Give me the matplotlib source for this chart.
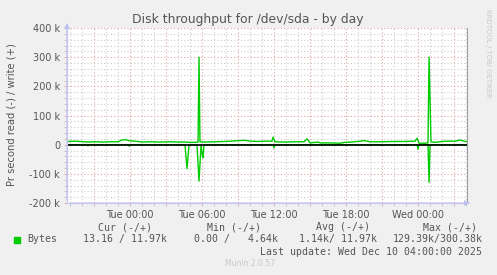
import matplotlib
matplotlib.use("Agg")
import matplotlib.pyplot as plt
from matplotlib.ticker import MultipleLocator, FuncFormatter

# hours relative to Tue 00:00
write_hours = [-5.25, -4.58, -4.17, -3.5, -2.92, -2.25, -1.67, -1.0, -0.67, -0.33,
               0.0, 0.42, 1.0, 1.67, 2.5, 3.33, 4.0, 4.58, 5.0, 5.5, 5.67, 5.75,
               5.83, 6.25, 7.08, 7.92, 8.75, 9.58, 10.0, 10.67, 11.25, 11.83, 11.92,
               12.08, 12.92, 13.75, 14.5, 14.75, 15.0, 15.67, 15.83, 16.67, 17.5,
               17.92, 18.5, 19.17, 19.5, 20.0, 20.83, 22.08, 22.92, 23.75, 23.92,
               24.08, 24.58, 24.83, 24.92, 25.08, 25.42, 26.25, 27.08, 27.5, 27.92, 28.08]
write_k = [11, 12, 11, 9, 10, 9, 10, 10, 16, 17,
           13, 12, 9, 10, 9, 10, 9, 9, 8, 8, 9, 300,
           10, 9, 10, 11, 13, 15, 12, 11, 12, 12, 26,
           10, 9, 10, 10, 20, 6, 9, 6, 6, 5,
           8, 9, 12, 14, 10, 10, 11, 11, 12, 22,
           5, 5, 6, 300, 10, 8, 12, 12, 16, 11, 11]

read_hours = [-5.25, -3.58, -3.5, -3.42, -0.17, -0.08, 0.0, 4.58, 4.75, 4.92,
              5.58, 5.75, 5.92, 6.0, 6.08, 6.17, 11.92, 12.0, 12.08,
              23.92, 24.0, 24.08, 24.83, 24.92, 25.0, 28.08]
read_k = [0, 0, 4, 0, 0, 5, 0, 0, 82, 0,
          0, 125, 0, 30, 45, 0, 0, 11, 0,
          0, 15, 0, 0, 129, 0, 0]

day_labels = {0: "Tue 00:00", 6: "Tue 06:00", 12: "Tue 12:00", 18: "Tue 18:00", 24: "Wed 00:00"}

legend_head = [("Cur (-/+)", 98), ("Min (-/+)", 207), ("Avg (-/+)", 316), ("Max (-/+)", 423)]
legend_vals = [("13.16 / 11.97k", 83), ("0.00 /   4.64k", 194), ("1.14k/ 11.97k", 299), ("129.39k/300.38k", 393)]

W, H = 497, 275
TXT = "#555555"
GREEN = "#00cc00"

fig = plt.figure(figsize=(W / 100, H / 100), dpi=100, facecolor="#f0f0f0")
ax = fig.add_axes([67 / W, 1 - 203 / H, 400 / W, 175 / H])
ax.set_facecolor("white")

ax.xaxis.set_major_locator(MultipleLocator(3))
ax.xaxis.set_minor_locator(MultipleLocator(1))
ax.yaxis.set_major_locator(MultipleLocator(100000))
ax.yaxis.set_minor_locator(MultipleLocator(20000))
ax.grid(which="minor", color="#cccccc", linestyle=(0, (1, 2)), linewidth=0.8)
ax.grid(which="major", color="#e0a4a4", linestyle=(0, (1, 2)), linewidth=0.8)
ax.set_axisbelow(True)

ax.plot(write_hours, [v * 1000 for v in write_k], color=GREEN, linewidth=1.0)
ax.plot(read_hours, [-v * 1000 for v in read_k], color=GREEN, linewidth=1.0)
ax.axhline(0, color="black", linewidth=1.2)

ax.set_xlim(-5.25, 28.08)
ax.set_ylim(-200000, 400000)

def ylab(v, pos):
    if v == 0:
        return "0"
    return "%d k" % (v / 1000)

def xlab(v, pos):
    return day_labels.get(int(round(v)), "")

ax.yaxis.set_major_formatter(FuncFormatter(ylab))
ax.xaxis.set_major_formatter(FuncFormatter(xlab))
ax.tick_params(which="both", length=2, width=0.6, colors="#e0a4a4", labelcolor=TXT,
               labelsize=7, pad=3)
ax.tick_params(which="minor", colors="#c0c0c0")

ax.spines["top"].set_visible(False)
ax.spines["right"].set_color("#a0a0a0")
ax.spines["left"].set_color("#c8c8f0")
ax.spines["bottom"].set_color("#c8c8f0")
ax.annotate("", xy=(0, 1.045), xytext=(0, 0), xycoords="axes fraction",
            arrowprops=dict(arrowstyle="-|>", color="#c0c0f0", lw=0.8, mutation_scale=8),
            annotation_clip=False)
ax.annotate("", xy=(1.015, 0), xytext=(0, 0), xycoords="axes fraction",
            arrowprops=dict(arrowstyle="-|>", color="#c0c0f0", lw=0.8, mutation_scale=8),
            annotation_clip=False)

def px(x, y):
    return x / W, 1 - y / H

fig.text(*px(248, 19), "Disk throughput for /dev/sda - by day", ha="center", va="center",
         fontsize=8.9, color=TXT)
fig.text(*px(12, 115), "Pr second read (-) / write (+)", ha="center", va="center",
         rotation=90, fontsize=7.2, color=TXT)
fig.text(*px(488, 53), "RRDTOOL / TOBI OETIKER", ha="center", va="center",
         rotation=270, fontsize=5, color="#c8c8c8")

mono = "DejaVu Sans Mono"
for label, x in legend_head:
    fig.text(*px(x, 227), label, ha="left", va="center", fontsize=7.1, family=mono, color=TXT)
fig.patches.append(plt.Rectangle(px(14, 243), 6 / W, 6 / H, transform=fig.transFigure,
                                 color=GREEN, figure=fig))
fig.text(*px(27, 239), "Bytes", ha="left", va="center", fontsize=7.1, family=mono, color=TXT)
for label, x in legend_vals:
    fig.text(*px(x, 239), label, ha="left", va="center", fontsize=7.1, family=mono, color=TXT)
fig.text(*px(482, 252), "Last update: Wed Dec 10 04:00:00 2025", ha="right", va="center",
         fontsize=7.1, family=mono, color=TXT)
fig.text(*px(250, 264), "Munin 2.0.57", ha="center", va="center", fontsize=5.5, color="#c8c8c8")

fig.savefig("out.png", dpi=100, facecolor=fig.get_facecolor())
